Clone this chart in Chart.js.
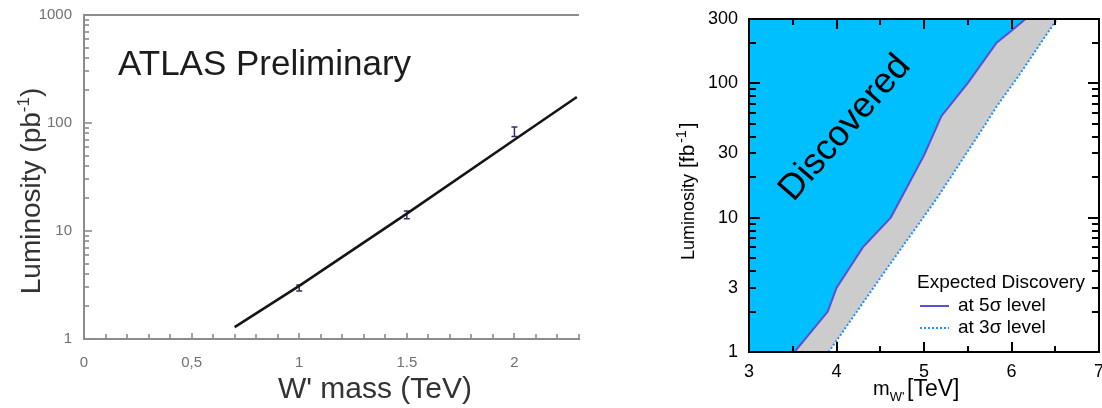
<!DOCTYPE html>
<html>
<head>
<meta charset="utf-8">
<script src="https://cdn.jsdelivr.net/npm/chart.js@4.4.1/dist/chart.umd.min.js"></script>
<style>
  html, body { margin: 0; padding: 0; background: #fff; }
  #wrap { position: relative; width: 1102px; height: 408px; overflow: hidden; }
  #boxAtlas { position: absolute; left: 0; top: 0; width: 600px; height: 408px; filter: blur(0.5px); }
  #boxReach { position: absolute; left: 640px; top: 0; width: 462px; height: 408px; }
</style>
</head>
<body>
<div id="wrap">
  <div id="boxAtlas"><canvas id="atlas"></canvas></div>
  <div id="boxReach"><canvas id="reach"></canvas></div>
</div>
<script>
/* ── ATLAS panel: luminosity needed vs W' mass ───────────── */
const atlasXRange = [0, 2.3];
const atlasYRange = [1, 1000];
const fitMass = [0.7, 1.0, 1.5, 2.0, 2.29];
const fitLumi = [1.29, 3.1, 14.5, 70, 174];
const pointMass = [1.0, 1.5, 2.0];
const pointLumi = [2.97, 14.1, 83];
const pointLow = [2.78, 13.0, 75];
const pointHigh = [3.17, 15.3, 92];
const atlasXTicks = [0, 0.5, 1, 1.5, 2];
const atlasXLabels = ['0', '0,5', '1', '1.5', '2'];
const atlasYLabels = [1, 10, 100, 1000];

/* ── Reach panel: expected discovery curves ──────────────── */
const reachXRange = [3, 7];
const reachYRange = [1, 300];
const mass5 = [3.52, 3.9, 4.0, 4.3, 4.62, 5.0, 5.2, 5.5, 5.83, 6.0, 6.16];
const lumi5 = [1, 2, 3, 6, 10, 29, 57, 100, 200, 245, 300];
const mass3 = [3.91, 4.6, 5.15, 5.68, 5.83, 6.08, 6.52];
const lumi3 = [1, 4.4, 14, 47, 67, 113, 300];
const reachXLabels = [3, 4, 5, 6, 7];
const reachYLabels = [1, 3, 10, 30, 100, 300];

const FONT = 'Liberation Sans, Arial, Helvetica, sans-serif';

function hasTick(list, v) {
  return list.some(t => Math.abs(t - v) < 1e-6);
}
function isDecade(v) {
  const l = Math.log10(v);
  return Math.abs(l - Math.round(l)) < 1e-6;
}
function toXY(xs, ys) {
  return xs.map((m, i) => ({ x: m, y: ys[i] }));
}
// 1,2,...,9,10,20,... up to max
function logSteps(min, max) {
  const out = [];
  for (let dec = min; dec <= max; dec *= 10) {
    for (let d = 1; d <= 9; d++) {
      const v = d * dec;
      if (v >= min && v <= max + 1e-9) out.push(v);
    }
  }
  return out;
}
function linSteps(min, max, step) {
  const out = [];
  const n = Math.round((max - min) / step);
  for (let i = 0; i <= n; i++) out.push(min + i * step);
  return out;
}
// fixed axis box so the plot area lands where we want it
function fixBox(size) {
  return scale => {
    if (scale.isHorizontal()) scale.height = size; else scale.width = size;
    scale.paddingLeft = scale.paddingRight = scale.paddingTop = scale.paddingBottom = 0;
  };
}
// short tick marks pointing into the plot area, as thin filled bars
function inwardTicks(ctx, scale, area, side, values, lenFn, w) {
  values.forEach(v => {
    const len = lenFn(v);
    const p = Math.round(scale.getPixelForValue(v));
    if (side === 'left') ctx.fillRect(area.left, p - w / 2, len, w);
    if (side === 'right') ctx.fillRect(area.right - len, p - w / 2, len, w);
    if (side === 'bottom') ctx.fillRect(p - w / 2, area.bottom - len, w, len);
    if (side === 'top') ctx.fillRect(p - w / 2, area.top, w, len);
  });
}

/* ── ATLAS chart ─────────────────────────────────────────── */
const atlasDecor = {
  id: 'atlasDecor',
  beforeDatasetsDraw(chart) {
    const { ctx, scales: { x, y } } = chart;
    ctx.save();
    ctx.strokeStyle = '#30306e';
    ctx.lineWidth = 1.5;
    pointMass.forEach((m, i) => {
      const px = x.getPixelForValue(m);
      const lo = y.getPixelForValue(pointLow[i]);
      const hi = y.getPixelForValue(pointHigh[i]);
      ctx.beginPath();
      ctx.moveTo(px, lo); ctx.lineTo(px, hi);
      ctx.moveTo(px - 3, lo); ctx.lineTo(px + 3, lo);
      ctx.moveTo(px - 3, hi); ctx.lineTo(px + 3, hi);
      ctx.stroke();
    });
    ctx.restore();
  },
  afterDraw(chart) {
    const { ctx, chartArea: a, scales: { x, y } } = chart;
    ctx.save();
    ctx.fillStyle = '#8c8c8c';
    inwardTicks(ctx, y, a, 'left', logSteps(atlasYRange[0], atlasYRange[1]),
      v => isDecade(v) ? 8 : 5, 1.6);
    inwardTicks(ctx, x, a, 'bottom', linSteps(atlasXRange[0], atlasXRange[1], 0.1),
      v => hasTick(atlasXTicks, v) ? 6 : 5, 1.6);
    ctx.strokeStyle = '#8c8c8c';
    ctx.lineWidth = 2;
    ctx.beginPath();
    ctx.moveTo(a.left, a.top); ctx.lineTo(a.right, a.top);
    ctx.stroke();

    ctx.fillStyle = '#1c1c1c';
    ctx.font = '35px ' + FONT;
    ctx.textBaseline = 'alphabetic';
    ctx.fillText('ATLAS Preliminary', 118, 75);

    ctx.fillStyle = '#333';
    ctx.font = '30px ' + FONT;
    ctx.textAlign = 'center';
    ctx.fillText("W' mass (TeV)", 375, 398);

    // rotated y title with superscript
    ctx.translate(40, 191);
    ctx.rotate(-Math.PI / 2);
    const main = 'Luminosity (pb';
    ctx.font = '28px ' + FONT;
    const w1 = ctx.measureText(main).width;
    ctx.font = '17px ' + FONT;
    const w2 = ctx.measureText('-1').width;
    ctx.font = '28px ' + FONT;
    const w3 = ctx.measureText(')').width;
    const s = -(w1 + w2 + w3) / 2;
    ctx.textAlign = 'left';
    ctx.fillText(main, s, 0);
    ctx.font = '17px ' + FONT;
    ctx.fillText('-1', s + w1, -11);
    ctx.font = '28px ' + FONT;
    ctx.fillText(')', s + w1 + w2, 0);
    ctx.restore();
  }
};

new Chart(document.getElementById('atlas'), {
  type: 'line',
  data: {
    datasets: [{
      label: 'fit',
      data: toXY(fitMass, fitLumi),
      borderColor: '#151515',
      borderWidth: 2.6,
      pointRadius: 0,
      tension: 0,
      fill: false
    }]
  },
  options: {
    responsive: true,
    maintainAspectRatio: false,
    animation: false,
    layout: { padding: { top: 15, right: 21, bottom: 0, left: 0 } },
    plugins: { legend: { display: false }, tooltip: { enabled: false } },
    scales: {
      x: {
        type: 'linear',
        min: atlasXRange[0], max: atlasXRange[1],
        afterFit: fixBox(69),
        grid: { display: false, drawTicks: false },
        border: { display: true, color: '#8c8c8c', width: 2 },
        ticks: {
          stepSize: 0.1,
          autoSkip: false,
          maxRotation: 0,
          padding: 15,
          color: '#707070',
          font: { family: FONT, size: 15 },
          callback: v => {
            const i = atlasXTicks.findIndex(t => Math.abs(t - v) < 1e-6);
            return i < 0 ? '' : atlasXLabels[i];
          }
        }
      },
      y: {
        type: 'logarithmic',
        min: atlasYRange[0], max: atlasYRange[1],
        afterFit: fixBox(84),
        grid: { display: false, drawTicks: false },
        border: { display: true, color: '#8c8c8c', width: 2 },
        ticks: {
          autoSkip: false,
          padding: 12,
          color: '#707070',
          font: { family: FONT, size: 15 },
          callback: v => hasTick(atlasYLabels, v) ? String(v) : ''
        }
      }
    }
  },
  plugins: [atlasDecor]
});

/* ── Discovery reach chart ───────────────────────────────── */
const reachDecor = {
  id: 'reachDecor',
  afterDraw(chart) {
    const { ctx, chartArea: a, scales: { x, y } } = chart;
    ctx.save();

    // frame and inward ticks on all four sides
    ctx.fillStyle = '#000';
    const yVals = logSteps(reachYRange[0], reachYRange[1]);
    const xVals = linSteps(reachXRange[0], reachXRange[1], 0.5);
    const yLen = v => isDecade(v) ? 11 : 7;
    const xLen = v => Math.abs(v - Math.round(v)) < 1e-6 ? 10 : 6;
    inwardTicks(ctx, y, a, 'left', yVals, yLen, 2);
    inwardTicks(ctx, y, a, 'right', yVals, yLen, 2);
    inwardTicks(ctx, x, a, 'bottom', xVals, xLen, 2);
    inwardTicks(ctx, x, a, 'top', xVals, xLen, 2);
    ctx.strokeStyle = '#000';
    ctx.lineWidth = 2;
    ctx.strokeRect(a.left, a.top, a.right - a.left, a.bottom - a.top);

    // label across the discovered region
    ctx.save();
    ctx.translate(205, 128);
    ctx.rotate(-49 * Math.PI / 180);
    ctx.font = '36px ' + FONT;
    ctx.textAlign = 'center';
    ctx.textBaseline = 'middle';
    ctx.fillText('Discovered', 0, 0);
    ctx.restore();

    // legend
    ctx.save();
    ctx.font = '19px ' + FONT;
    ctx.textBaseline = 'middle';
    ctx.fillText('Expected Discovery', 277, 283);
    ctx.fillText('at 5σ level', 318, 306);
    ctx.fillText('at 3σ level', 318, 328);
    ctx.lineWidth = 2;
    ctx.strokeStyle = '#5b4fd6';
    ctx.beginPath(); ctx.moveTo(280, 306); ctx.lineTo(309, 306); ctx.stroke();
    ctx.strokeStyle = '#1e8fff';
    ctx.setLineDash([2, 2]);
    ctx.beginPath(); ctx.moveTo(280, 328); ctx.lineTo(309, 328); ctx.stroke();
    ctx.restore();

    // x title: m with subscript W'
    ctx.textBaseline = 'alphabetic';
    ctx.font = '20px ' + FONT;
    ctx.fillText('m', 233, 395);
    const wm = ctx.measureText('m').width;
    ctx.font = '13px ' + FONT;
    ctx.fillText("W'", 233 + wm, 401);
    ctx.font = '23px ' + FONT;
    ctx.fillText('[TeV]', 267, 396);

    // y title, rotated, pieces placed along the axis
    ctx.translate(54, 260);
    ctx.rotate(-Math.PI / 2);
    ctx.font = '18px ' + FONT;
    ctx.fillText('Luminosity', 0, 0);
    ctx.font = '21px ' + FONT;
    ctx.fillText('[fb', 92, 0);
    const wf = ctx.measureText('[fb').width;
    ctx.font = '14px ' + FONT;
    ctx.fillText('-1', 94 + wf, -8);
    const ws = ctx.measureText('-1').width;
    ctx.font = '21px ' + FONT;
    ctx.fillText(']', 96 + wf + ws, 0);
    ctx.restore();
  }
};

new Chart(document.getElementById('reach'), {
  type: 'line',
  data: {
    datasets: [
      {
        label: 'at 5σ level',
        data: toXY(mass5, lumi5),
        borderColor: '#5b4fd6',
        borderWidth: 2,
        pointRadius: 0,
        tension: 0,
        fill: false
      },
      {
        label: 'at 3σ level',
        data: toXY(mass3, lumi3),
        borderColor: '#1e8fff',
        borderWidth: 2,
        borderDash: [2, 2],
        pointRadius: 0,
        tension: 0,
        fill: false
      },
      {
        label: 'discovered',
        data: [{ x: reachXRange[0], y: reachYRange[0] }].concat(toXY(mass5, lumi5)),
        borderColor: 'rgba(0,0,0,0)',
        borderWidth: 0,
        backgroundColor: '#00bfff',
        pointRadius: 0,
        tension: 0,
        fill: 'end'
      },
      {
        label: 'band',
        data: [{ x: reachXRange[0], y: reachYRange[0] }].concat(toXY(mass3, lumi3)),
        borderColor: 'rgba(0,0,0,0)',
        borderWidth: 0,
        backgroundColor: '#cccccc',
        pointRadius: 0,
        tension: 0,
        fill: 'end'
      }
    ]
  },
  options: {
    responsive: true,
    maintainAspectRatio: false,
    animation: false,
    layout: { padding: { top: 19, right: 3, bottom: 0, left: 0 } },
    plugins: { legend: { display: false }, tooltip: { enabled: false } },
    scales: {
      x: {
        type: 'linear',
        min: reachXRange[0], max: reachXRange[1],
        afterFit: fixBox(56),
        grid: { display: false, drawTicks: false },
        border: { display: false },
        ticks: {
          stepSize: 0.5,
          autoSkip: false,
          maxRotation: 0,
          padding: 9,
          color: '#000',
          font: { family: FONT, size: 18 },
          callback: v => hasTick(reachXLabels, v) ? String(Math.round(v)) : ''
        }
      },
      y: {
        type: 'logarithmic',
        min: reachYRange[0], max: reachYRange[1],
        afterFit: fixBox(109),
        grid: { display: false, drawTicks: false },
        border: { display: false },
        ticks: {
          autoSkip: false,
          padding: 11,
          color: '#000',
          font: { family: FONT, size: 18 },
          callback: v => hasTick(reachYLabels, v) ? String(Math.round(v)) : ''
        }
      }
    }
  },
  plugins: [reachDecor]
});
</script>
</body>
</html>
